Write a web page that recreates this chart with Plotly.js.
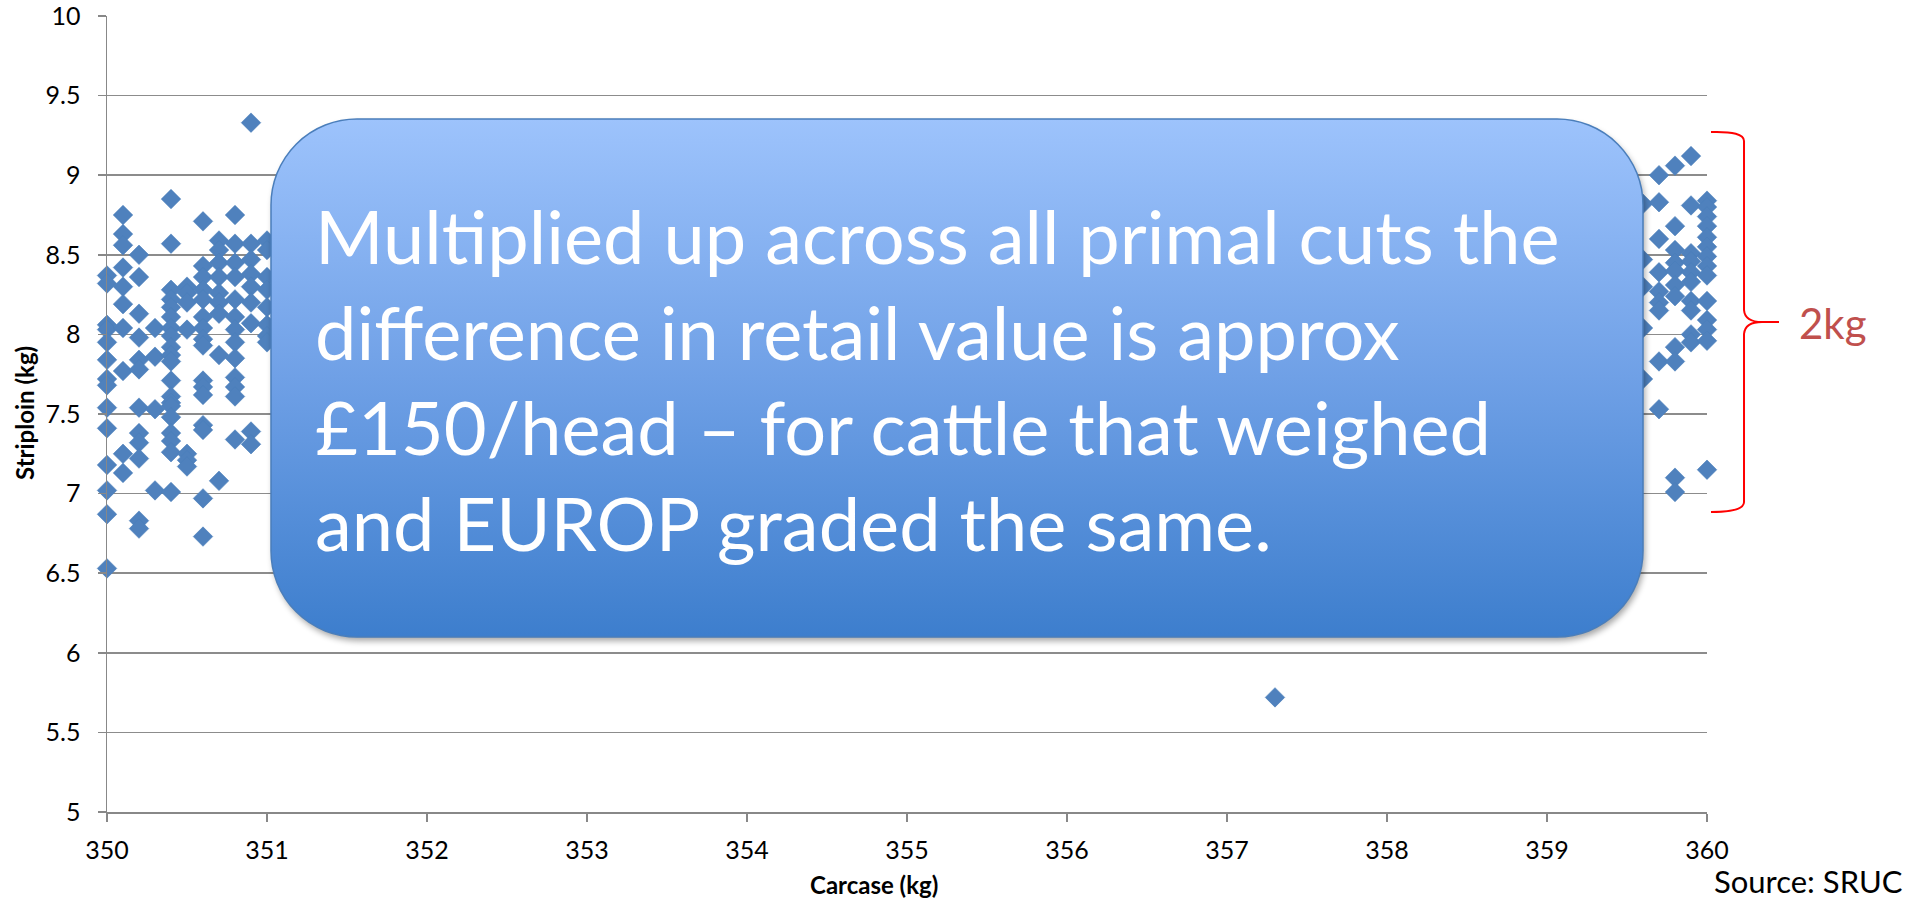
<!DOCTYPE html>
<html>
<head>
<meta charset="utf-8">
<script src="https://cdn.plot.ly/plotly-3.0.1.min.js"></script>
<style>
html,body{margin:0;padding:0;background:#ffffff;}
#chart{width:1907px;height:900px;}
</style>
</head>
<body>
<div id="chart"></div>
<script>
// ---- Data ----
const columnCarcase = [350.0, 350.1, 350.2, 350.3, 350.4, 350.5, 350.6, 350.7, 350.8, 350.9, 351.0,
                       359.6, 359.7, 359.8, 359.9, 360.0];
const columnStriploin = [
  [8.37, 8.32, 8.06, 8.03, 7.95, 7.84, 7.72, 7.68, 7.54, 7.41, 7.18, 7.02, 6.87, 6.53],
  [8.75, 8.63, 8.56, 8.42, 8.30, 8.19, 8.04, 7.77, 7.25, 7.13],
  [8.50, 8.36, 8.13, 7.98, 7.84, 7.78, 7.54, 7.38, 7.32, 7.22, 6.83, 6.78],
  [8.04, 7.86, 7.53, 7.02],
  [8.85, 8.57, 8.28, 8.22, 8.17, 8.11, 8.04, 7.99, 7.92, 7.87, 7.83, 7.71, 7.61, 7.57, 7.55, 7.48, 7.38, 7.33, 7.26, 7.01],
  [8.30, 8.26, 8.20, 8.03, 7.25, 7.21, 7.17],
  [8.71, 8.43, 8.36, 8.28, 8.22, 8.11, 8.04, 7.97, 7.93, 7.71, 7.67, 7.62, 7.43, 7.40, 6.97, 6.73],
  [8.59, 8.53, 8.45, 8.36, 8.26, 8.20, 8.13, 7.87, 7.08],
  [8.75, 8.57, 8.45, 8.36, 8.22, 8.11, 8.03, 7.95, 7.85, 7.73, 7.67, 7.61, 7.34],
  [9.33, 8.57, 8.47, 8.38, 8.30, 8.20, 8.07, 7.39, 7.31],
  [8.59, 8.53, 8.36, 8.28, 8.17, 8.06, 7.99, 7.95],
  [8.82, 8.47, 8.30, 8.04, 7.72],
  [9.00, 8.83, 8.60, 8.39, 8.27, 8.20, 8.15, 7.83, 7.53],
  [9.06, 8.68, 8.53, 8.45, 8.40, 8.31, 8.24, 7.92, 7.83, 7.10, 7.01],
  [9.12, 8.81, 8.51, 8.46, 8.39, 8.33, 8.21, 8.15, 8.00, 7.95],
  [8.84, 8.80, 8.74, 8.68, 8.61, 8.55, 8.49, 8.43, 8.37, 8.21, 8.09, 8.03, 7.96, 7.15]
];
const outlierCarcase = [357.3];
const outlierStriploin = [5.72];

const xTickValues = [350, 351, 352, 353, 354, 355, 356, 357, 358, 359, 360];
const yTickValues = [5, 5.5, 6, 6.5, 7, 7.5, 8, 8.5, 9, 9.5, 10];

const xTitle = 'Carcase (kg)';
const yTitle = 'Striploin (kg)';
const calloutLines = [
  'Multiplied up across all primal cuts the',
  'difference in retail value is approx',
  '£150/head – for cattle that weighed',
  'and EUROP graded the same.'
];
const bracketLabel = '2kg';
const sourceLabel = 'Source: SRUC';

// ---- Build trace ----
const xs = [], ys = [];
columnCarcase.forEach((c, i) => {
  columnStriploin[i].forEach(v => { xs.push(c); ys.push(v); });
});
outlierCarcase.forEach((c, i) => { xs.push(c); ys.push(outlierStriploin[i]); });

const FONT = 'Lato, "Open Sans", "DejaVu Sans", sans-serif';

// plot area in page pixels
const L = 107, R = 1707, T = 16, B = 812;
const W = 1907, H = 900;
const px = p => (p - L) / (R - L);
const py = p => (B - p) / (B - T);

// callout box as svg image
const bx = 271, by = 119, bw = 1372, bh = 518, rad = 86, pad = 14;
const svgW = bw + 2 * pad, svgH = bh + 2 * pad;
const svg =
  `<svg xmlns='http://www.w3.org/2000/svg' width='${svgW}' height='${svgH}' viewBox='0 0 ${svgW} ${svgH}'>` +
  `<defs><linearGradient id='g' x1='0' y1='0' x2='0' y2='1'>` +
  `<stop offset='0' stop-color='#9DC3FC'/><stop offset='0.5' stop-color='#6FA0E6'/><stop offset='1' stop-color='#3D7ECD'/>` +
  `</linearGradient><filter id='s' x='-10%' y='-10%' width='120%' height='130%'><feGaussianBlur stdDeviation='3'/></filter></defs>` +
  `<rect x='${pad + 2}' y='${pad + 4}' width='${bw}' height='${bh}' rx='${rad}' ry='${rad}' fill='#000' opacity='0.35' filter='url(#s)'/>` +
  `<rect x='${pad}' y='${pad}' width='${bw}' height='${bh}' rx='${rad}' ry='${rad}' fill='url(#g)' stroke='#4A7EBB' stroke-width='1.5'/>` +
  `</svg>`;
const svgUri = 'data:image/svg+xml;charset=utf-8,' + encodeURIComponent(svg);

// curly bracket (pixels -> paper)
const bracePts = [
  ['M', 1711, 132], ['Q', 1744, 131, 1744, 141], ['L', 1744, 310],
  ['Q', 1745, 322, 1762, 322], ['L', 1779, 322],
  ['M', 1762, 322], ['Q', 1745, 322, 1744, 334], ['L', 1744, 502],
  ['Q', 1744, 512, 1711, 512]
];
let bracePath = '';
bracePts.forEach(seg => {
  bracePath += seg[0];
  for (let k = 1; k < seg.length; k += 2) {
    bracePath += ' ' + px(seg[k]).toFixed(5) + ',' + py(seg[k + 1]).toFixed(5) + ' ';
  }
});

const lineCenters = [235, 331, 427, 522];
const annotations = calloutLines.map((t, i) => ({
  text: t, xref: 'paper', yref: 'paper', x: px(314), y: py(lineCenters[i]),
  xanchor: 'left', yanchor: 'middle', showarrow: false, borderpad: 0,
  font: {family: FONT, size: 74, color: '#ffffff'}
}));
annotations.push(
  {text: xTitle, xref: 'paper', yref: 'paper', x: px(874), y: py(884), xanchor: 'center', yanchor: 'middle',
   showarrow: false, font: {family: FONT, size: 24, color: '#000', weight: 'bold'}},
  {text: yTitle, xref: 'paper', yref: 'paper', x: px(24), y: py(413), xanchor: 'center', yanchor: 'middle',
   textangle: -90, showarrow: false, font: {family: FONT, size: 24, color: '#000', weight: 'bold'}},
  {text: bracketLabel, xref: 'paper', yref: 'paper', x: px(1797), y: py(323), xanchor: 'left', yanchor: 'middle',
   showarrow: false, font: {family: FONT, size: 42, color: '#C0504D'}},
  {text: sourceLabel, xref: 'paper', yref: 'paper', x: px(1904), y: py(881), xanchor: 'right', yanchor: 'middle',
   showarrow: false, borderpad: 0, font: {family: FONT, size: 31, color: '#000'}}
);

const trace = {
  type: 'scatter', mode: 'markers', x: xs, y: ys, cliponaxis: false,
  marker: {symbol: 'diamond', size: 15, color: '#4F81BD', line: {width: 0.6, color: '#4A7EBB'}},
  hoverinfo: 'x+y'
};

const layout = {
  width: W, height: H,
  margin: {l: L, r: W - R, t: T, b: H - B, pad: 0},
  paper_bgcolor: '#ffffff', plot_bgcolor: '#ffffff',
  showlegend: false,
  font: {family: FONT, size: 25, color: '#000'},
  xaxis: {
    range: [350, 360], tickvals: xTickValues, ticktext: xTickValues.map(String),
    showgrid: false, zeroline: false, showline: true, linecolor: '#888888', linewidth: 1.5,
    ticks: 'outside', ticklen: 8, tickwidth: 1.5, tickcolor: '#888888',
    tickfont: {family: FONT, size: 25, color: '#000'}, ticklabelstandoff: 7,
    ticklabeloverflow: 'allow'
  },
  yaxis: {
    range: [5, 10], tickvals: yTickValues, ticktext: yTickValues.map(String),
    showgrid: true, gridcolor: '#8C8C8C', gridwidth: 1.5, zeroline: false,
    showline: true, linecolor: '#888888', linewidth: 1.5,
    ticks: 'outside', ticklen: 8, tickwidth: 1.5, tickcolor: '#888888',
    tickfont: {family: FONT, size: 25, color: '#000'}, ticklabelstandoff: 12,
    ticklabeloverflow: 'allow'
  },
  images: [{
    source: svgUri, xref: 'paper', yref: 'paper',
    x: px(bx - pad), y: py(by - pad), sizex: svgW / (R - L), sizey: svgH / (B - T),
    xanchor: 'left', yanchor: 'top', sizing: 'stretch', layer: 'above'
  }],
  shapes: [{
    type: 'path', xref: 'paper', yref: 'paper', path: bracePath,
    line: {color: '#FF0000', width: 2}
  }],
  annotations: annotations
};

Plotly.newPlot('chart', [trace], layout, {displayModeBar: false, staticPlot: true});
</script>
</body>
</html>
